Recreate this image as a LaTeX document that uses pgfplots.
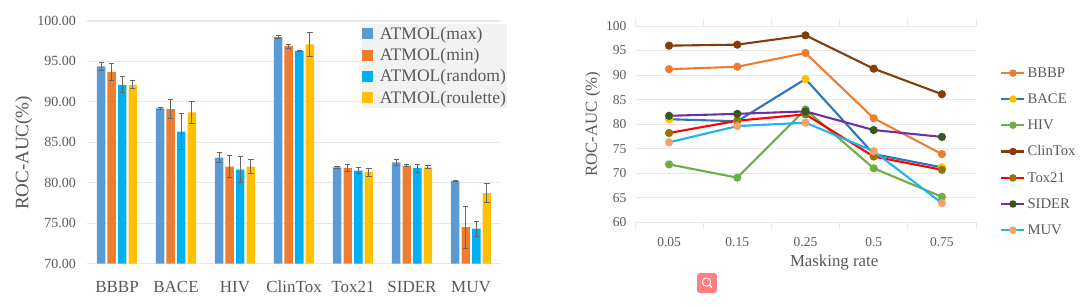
\documentclass[border=0pt]{standalone}
\usepackage{pgfplots}
\pgfplotsset{compat=1.18}
\usepackage{fontspec}
\setmainfont{Liberation Serif}
\definecolor{cMax}{HTML}{5B9BD5}
\definecolor{cMin}{HTML}{ED7D31}
\definecolor{cRan}{HTML}{00B0F0}
\definecolor{cRou}{HTML}{FFC000}
\definecolor{txt}{HTML}{595959}
\definecolor{grd}{HTML}{E8E8E8}
\definecolor{cBACE}{HTML}{2E75B6}
\definecolor{cHIV}{HTML}{70AD47}
\definecolor{cClin}{HTML}{843C0C}
\definecolor{cTox}{HTML}{FF0000}
\definecolor{mTox}{HTML}{997300}
\definecolor{cSID}{HTML}{7030A0}
\definecolor{mSID}{HTML}{385723}
\definecolor{cMUV}{HTML}{1FB4EE}
\definecolor{mMUV}{HTML}{F4A26B}
\begin{document}
\begin{tikzpicture}[x=1pt,y=1pt]
\path[use as bounding box] (0,0) rectangle (1080,306);
% left chart
\begin{axis}[
  at={(87.5pt,42.5pt)}, anchor=south west, scale only axis,
  width=413pt, height=242.5pt,
  ymin=70, ymax=100, xmin=-0.5, xmax=6.5,
  ybar=2.2pt, bar width=8.4pt,
  axis line style={draw=none}, tick style={draw=none},
  ytick={70,75,...,100},
  /pgf/number format/fixed,
  /pgf/number format/fixed zerofill,
  /pgf/number format/precision=2,
  /pgf/number format/assume math mode=true,
  ymajorgrids, grid style={grd,line width=1.1pt},
  xtick={0,...,6},
  xticklabels={BBBP,BACE,HIV,ClinTox,Tox21,SIDER,MUV},
  xticklabel style={font=\fontsize{17}{17}\selectfont,text=txt,yshift=-9pt,text height=12pt,text depth=0pt},
  yticklabel style={font=\fontsize{14}{14}\selectfont,text=txt,xshift=-8pt},
  ylabel={ROC-AUC(\%)},
  ylabel style={at={(axis description cs:-0.154,0.456)},anchor=center,font=\fontsize{19}{19}\selectfont,text=txt},
  legend style={at={(axis description cs:0.665,0.99)},anchor=north west,fill=black!5,draw=none,
     font=\fontsize{17.6}{17.6}\selectfont,text=txt,inner xsep=0pt,inner ysep=2pt,
     row sep=4.6pt,nodes={inner sep=1.5pt}},
  legend cell align=left,
  legend image code/.code={\fill[#1,draw=none] (-2pt,-5.5pt) rectangle (9pt,5.5pt);\path (9pt,0pt) -- (14pt,0pt);},
  error bars/y dir=both, error bars/y explicit,
  error bars/error bar style={black!60,line width=1pt},
  error bars/error mark options={black!60,line width=1pt,rotate=90,mark size=2.6pt},
]
\addplot[fill=cMax,draw=none] coordinates {(0,94.4)+-(0,0.5) (1,89.2)+-(0,0.15) (2,83.1)+-(0,0.6) (3,98.0)+-(0,0.2) (4,81.9)+-(0,0.1) (5,82.5)+-(0,0.35) (6,80.2)+-(0,0.1)};
\addplot[fill=cMin,draw=none] coordinates {(0,93.7)+-(0,1.0) (1,89.1)+-(0,1.2) (2,82.0)+-(0,1.4) (3,96.9)+-(0,0.25) (4,81.8)+-(0,0.4) (5,82.1)+-(0,0.1) (6,74.5)+-(0,2.6)};
\addplot[fill=cRan,draw=none] coordinates {(0,92.1)+-(0,1.0) (1,86.3)+-(0,2.2) (2,81.6)+-(0,1.6) (3,96.3)+-(0,0.1) (4,81.5)+-(0,0.4) (5,81.8)+-(0,0.5) (6,74.3)+-(0,0.9)};
\addplot[fill=cRou,draw=none] coordinates {(0,92.1)+-(0,0.5) (1,88.7)+-(0,1.4) (2,82.0)+-(0,0.9) (3,97.1)+-(0,1.45) (4,81.3)+-(0,0.5) (5,81.9)+-(0,0.2) (6,78.7)+-(0,1.15)};
\legend{ATMOL(max),ATMOL(min),ATMOL(random),ATMOL(roulette)}
\end{axis}
% right chart
\begin{axis}[
  at={(635pt,83.7pt)}, anchor=south west, scale only axis,
  width=341pt, height=196.3pt,
  ymin=60, ymax=100, xmin=-0.5, xmax=4.5,
  clip=false,
  axis line style={draw=none},
  ytick={60,65,...,100},
  ymajorgrids, grid style={grd,line width=1pt},
  major tick length=0pt,
  xtick={0,...,4}, xticklabels={0.05,0.15,0.25,0.5,0.75},
  minor xtick={-0.5,0.5,...,4.5},
  minor tick length=6pt, tick align=outside,
  minor tick style={grd,line width=0.8pt},
  /pgf/number format/assume math mode=true,
  xticklabel style={font=\fontsize{13.5}{13.5}\selectfont,text=txt,yshift=-12pt},
  yticklabel style={font=\fontsize{13.5}{13.5}\selectfont,text=txt,xshift=-5pt},
  ylabel={ROC-AUC (\%)},
  ylabel style={at={(axis description cs:-0.124,0.5)},anchor=center,font=\fontsize{16.8}{16.8}\selectfont,text=txt},
  xlabel={Masking rate},
  xlabel style={at={(axis description cs:0.584,-0.205)},anchor=center,font=\fontsize{16.8}{16.8}\selectfont,text=txt},
  legend style={at={(axis description cs:1.062,0.81)},anchor=north west,draw=none,fill=none,
     font=\fontsize{14.7}{14.7}\selectfont,text=txt,row sep=10.9pt,nodes={inner sep=2pt}},
  legend cell align=left,
  every axis plot/.append style={line width=2.1pt,mark=*,mark size=3pt},
  legend image code/.code={\draw[mark repeat=2,mark phase=2,mark size=2.6pt,line width=2.2pt,#1] plot coordinates {(0pt,0pt)(11.5pt,0pt)(23pt,0pt)};},
]
\addplot[color=cMin,mark options={fill=cMin,draw=cMin}] coordinates {(0,91.2)(1,91.7)(2,94.5)(3,81.2)(4,73.9)};
\addplot[color=cBACE,mark options={fill=cRou,draw=cRou}] coordinates {(0,81.0)(1,80.6)(2,89.2)(3,73.9)(4,71.2)};
\addplot[color=cHIV,mark options={fill=cHIV,draw=cHIV}] coordinates {(0,71.8)(1,69.1)(2,83.0)(3,71.0)(4,65.2)};
\addplot[color=cClin,mark options={fill=cClin,draw=cClin}] coordinates {(0,96.0)(1,96.2)(2,98.1)(3,91.3)(4,86.1)};
\addplot[color=cTox,mark options={fill=mTox,draw=mTox}] coordinates {(0,78.2)(1,80.7)(2,82.0)(3,73.4)(4,70.7)};
\addplot[color=cSID,mark options={fill=mSID,draw=mSID}] coordinates {(0,81.7)(1,82.1)(2,82.6)(3,78.8)(4,77.4)};
\addplot[color=cMUV,mark options={fill=mMUV,draw=mMUV}] coordinates {(0,76.3)(1,79.6)(2,80.3)(3,74.5)(4,63.9)};
\legend{BBBP,BACE,HIV,ClinTox,Tox21,SIDER,MUV}
\end{axis}
% search icon
\fill[rounded corners=3pt,fill=red!50!white] (697,13) rectangle (717,33);
\draw[white,line width=0.9pt] (706.5,24) circle (4.2pt);
\draw[white,line width=1.2pt] (709.5,21) -- (712,18.5);
\end{tikzpicture}
\end{document}
